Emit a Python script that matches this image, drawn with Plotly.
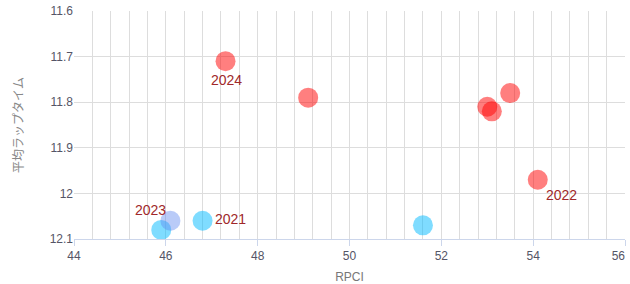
import plotly.graph_objects as go

# data
red_x = [47.3, 49.1, 53.0, 53.1, 53.5, 54.1]
red_y = [11.71, 11.79, 11.81, 11.82, 11.78, 11.97]

blue_x = [45.9, 46.8, 51.6]
blue_y = [12.08, 12.06, 12.07]

lav_x = [46.1]
lav_y = [12.06]

# year labels attached to points
label_text = ["2024", "2022", "2021", "2023"]
label_x = [47.3, 54.1, 46.8, 46.1]
label_y = [11.71, 11.97, 12.06, 12.06]
label_dx = [1, 24, 28, -20]
label_dy = [-19, -15, 2, 11]

x_ticks = [44, 46, 48, 50, 52, 54, 56]
x_tick_labels = ["44", "46", "48", "50", "52", "54", "56\u00a0\u00a0\u00a0\u00a0"]
y_ticks = [11.6, 11.7, 11.8, 11.9, 12.0, 12.1]
y_tick_labels = ["11.6", "11.7", "11.8", "11.9", "12", "12.1"]

label_font = dict(family="Liberation Sans, Arial, sans-serif", size=14, color="#a0282a")

fig = go.Figure()
for xs, ys, col in [
    (red_x, red_y, "rgba(255,0,0,0.5)"),
    (blue_x, blue_y, "rgba(0,185,255,0.5)"),
    (lav_x, lav_y, "rgba(100,140,240,0.45)"),
]:
    fig.add_trace(go.Scatter(
        x=xs, y=ys, mode="markers",
        marker=dict(size=20, color=col, line=dict(width=0)),
        showlegend=False, cliponaxis=False,
    ))

for t, x, y, dx, dy in zip(label_text, label_x, label_y, label_dx, label_dy):
    fig.add_annotation(x=x, y=y, text=t, showarrow=False, xshift=dx, yshift=dy,
                       font=label_font)

fig.update_layout(
    width=630, height=284,
    margin=dict(l=74, r=5, t=11, b=45),
    paper_bgcolor="white", plot_bgcolor="white",
    font=dict(family="Noto Sans CJK JP, sans-serif", color="#666666"),
)
fig.update_xaxes(
    range=[44, 56], tickvals=x_ticks, ticktext=x_tick_labels,
    ticklabeloverflow="allow", automargin=False,
    showgrid=True, gridcolor="#dddddd", gridwidth=1,
    minor=dict(dtick=0.4, showgrid=True, gridcolor="#dddddd", gridwidth=1, tick0=44),
    showline=True, linecolor="#ccd6eb", linewidth=1,
    ticks="outside", ticklen=6, tickcolor="#ccd6eb",
    tickfont=dict(family="Liberation Sans, Arial, sans-serif", size=12, color="#555566"),
    title=dict(text="RPCI", font=dict(size=12, color="#777777", family="Liberation Sans, Arial, sans-serif"), standoff=12),
    zeroline=False,
)
fig.update_yaxes(
    range=[12.1, 11.6], tickvals=y_ticks, ticktext=y_tick_labels,
    showgrid=True, gridcolor="#dddddd", gridwidth=1,
    showline=False, ticks="",
    tickfont=dict(family="Liberation Sans, Arial, sans-serif", size=12, color="#555566"),
    title=dict(text="平均ラップタイム", font=dict(size=12, color="#888888"), standoff=23),
    zeroline=False,
)
fig.write_html("out.html")
